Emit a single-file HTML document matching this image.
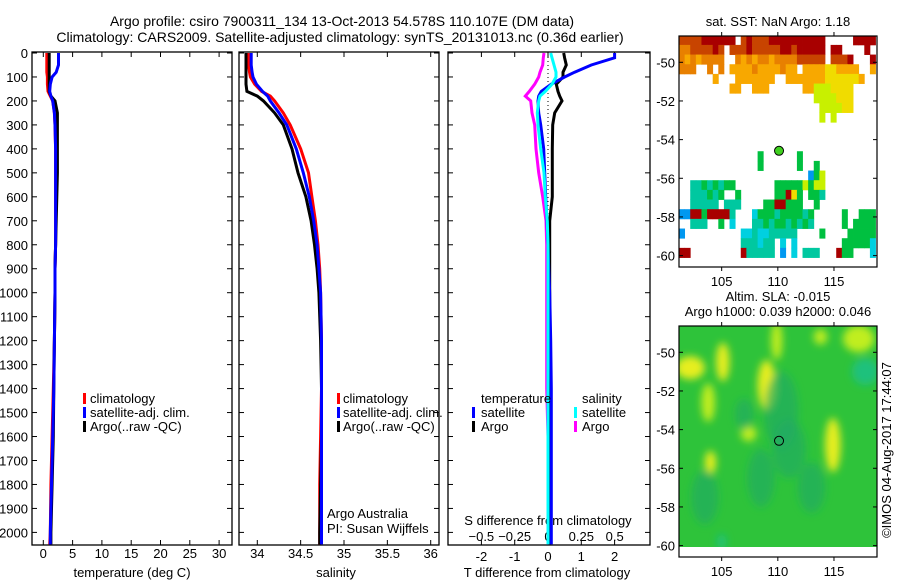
<!DOCTYPE html>
<html><head><meta charset="utf-8">
<style>
html,body{margin:0;padding:0;background:#fff;}
svg{display:block;font-family:"Liberation Sans",sans-serif;}
text{font-size:13px;fill:#000;}
</style></head>
<body>
<svg id="fig" width="900" height="580" viewBox="0 0 900 580" xmlns="http://www.w3.org/2000/svg">
<defs><filter id="blur" x="-50%" y="-50%" width="200%" height="200%"><feGaussianBlur stdDeviation="4"/></filter>
<clipPath id="clip2"><rect x="679" y="326" width="198" height="221"/></clipPath>
<clipPath id="clip1"><rect x="679" y="36" width="198" height="231"/></clipPath></defs>
<text x="342" y="26" text-anchor="middle" style="font-size:14px">Argo profile: csiro 7900311_134 13-Oct-2013 54.578S 110.107E (DM data)</text>
<text x="340" y="42" text-anchor="middle" style="font-size:14px">Climatology: CARS2009. Satellite-adjusted climatology: synTS_20131013.nc (0.36d earlier)</text>
<text x="778" y="26" text-anchor="middle">sat. SST: NaN Argo: 1.18</text>
<text x="778" y="301" text-anchor="middle">Altim. SLA: -0.015</text>
<text x="778" y="316" text-anchor="middle">Argo h1000: 0.039 h2000: 0.046</text>
<text transform="translate(891,450) rotate(-90)" text-anchor="middle">©IMOS 04-Aug-2017 17:44:07</text>
<g id="g"></g>
</svg>
<script>
// ---------- data ----------
const depthTicks=[0,100,200,300,400,500,600,700,800,900,1000,1100,1200,1300,1400,1500,1600,1700,1800,1900,2000];
const tempTicks=[0,5,10,15,20,25,30];
const salTicks=[34,34.5,35,35.5,36];
const tdTicks=[-2,-1,0,1,2];
const sdTicks=[-0.5,-0.25,0,0.25,0.5];
const depths=[0,20,50,80,100,130,160,180,200,250,300,400,500,600,700,800,900,1000,1200,1400,1600,1800,2000,2050];
const tempClim=[0.6,0.6,0.6,0.6,0.7,0.7,0.8,1.2,1.6,1.9,2.0,2.1,2.1,2.1,2.1,2.1,2.0,2.0,1.9,1.7,1.5,1.3,1.2,1.1];
const tempSat=[2.6,2.6,2.6,2.2,1.5,1.2,1.1,1.3,1.6,1.9,2.0,2.1,2.1,2.1,2.1,2.1,2.0,2.0,1.9,1.8,1.6,1.4,1.2,1.2];
const tempArgo=[1.0,1.0,1.0,1.0,1.0,1.0,1.0,1.3,2.0,2.4,2.4,2.4,2.4,2.3,2.2,2.1,2.0,2.0,1.9,1.8,1.7,1.5,1.3,1.3];
const salClim=[33.9,33.9,33.9,33.91,33.92,33.97,34.05,34.15,34.2,34.3,34.38,34.5,34.59,34.63,34.67,34.7,34.72,34.73,34.74,34.74,34.73,34.72,34.72,34.72];
const salSat=[33.93,33.93,33.93,33.94,33.95,33.99,34.06,34.12,34.15,34.25,34.34,34.45,34.53,34.6,34.65,34.69,34.71,34.73,34.74,34.74,34.74,34.74,34.74,34.74];
const salArgo=[33.87,33.87,33.87,33.87,33.87,33.87,33.88,34.0,34.07,34.2,34.3,34.4,34.47,34.56,34.62,34.66,34.69,34.71,34.73,34.74,34.74,34.73,34.72,34.72];
const tdSat=[2.0,2.0,1.3,0.8,0.5,0.1,-0.2,-0.28,-0.3,-0.28,-0.22,-0.13,-0.1,-0.07,-0.03,0,0.02,0.05,0.08,0.1,0.1,0.1,0.1,0.1];
const tdArgo=[0.47,0.5,0.55,0.45,0.45,0.25,0.3,0.35,0.42,0.2,0.14,0.13,0.13,0.13,0.05,0.05,0.05,0.05,0.05,0.05,0.05,0.05,0.05,0.05];
const sdSat=[0.02,0.03,0.045,0.06,0.06,0.03,-0.02,-0.06,-0.07,-0.08,-0.075,-0.055,-0.03,-0.02,-0.005,0,0,0,0,0,0,0,0,0];
const sdArgo=[-0.03,-0.035,-0.04,-0.06,-0.07,-0.1,-0.14,-0.17,-0.13,-0.12,-0.1,-0.09,-0.07,-0.04,-0.015,-0.01,-0.01,-0.01,-0.01,-0.01,0,0,0,0];
const lonTicks=[105,110,115];
const latTicks=[-50,-52,-54,-56,-58,-60];
const argoLon=110.107, argoLat=-54.578;
const sstRows=[
"rrrrRRRRRR.rRrrrRRRRRRRRRR.....RRRR",
"oorrrrRr.rrrRrrrrrRRrRRRRR.RR....R.",
"oOoOoooo..oOoOooOoooorrrrr.rrrR...R",
"ooo..o.o.OOOOoOOOOoOO.OOOOyyOOOO..O",
"......O...OOOOOOO..OOOOOOOyyyyyyO..",
".........OO..OOO......OOYYYyyyy....",
"........................YYYYyyy....",
".........................YYYYyy....",
".........................Y.Y.......",
"",
"",
"",
"..............g......g",
"..............g......g..g",
".......................bgY",
"..ttgtgtgg.......gggggYgYY",
"..tttgtg..g......ggRyg.ggt",
"..ttttt.ttt....ggRRggg..g",
"bbRRgRRRRt...cgggtggggtg.....g..ggg",
"..ttt..g.c...ttgtggtgtgt.....g.gggg",
"b..........cctccttttt....g....ggggg",
"...........tttctt.c.c........gggggc",
"RR.........Rttttt.b.c.ttt...Rgg...c"
];
const sstColors={R:"#a80000",r:"#c84400",o:"#e88000",O:"#f8a800",y:"#f0dc00",Y:"#c8f000",g:"#00c040",t:"#00c8a0",c:"#00d0e0",b:"#0098f0"};
const slaBlobLon=[102.2,105.1,109.0,109.9,117.2,113.8,103.8,107.4,104.0,114.9,110.3,117.8,107.0,111.0,105.0,113.0,103.5,108.5];
const slaBlobLat=[-50.8,-50.5,-51.7,-49.4,-49.3,-49.2,-52.6,-54.2,-55.7,-54.8,-53.0,-51.0,-53.2,-55.0,-59.8,-57.0,-57.5,-56.5];
const slaBlobVal=[1,1,1,0.6,0.8,0.6,0.7,0.8,0.9,0.9,-0.5,-1,-0.7,-0.6,-1,-0.5,-0.5,-0.6];
const slaBlobRx=[1.3,0.6,0.8,0.5,1.4,0.6,0.6,0.7,0.5,0.7,1.5,1.2,0.8,1.5,0.4,1.2,1.2,1.2];
const slaBlobRy=[0.6,1.0,1.3,1.0,0.7,0.4,1.0,0.4,0.6,1.4,2.0,0.7,0.8,1.5,0.4,1.3,1.4,1.5];

// ---------- scales ----------
const NS="http://www.w3.org/2000/svg";
const G=document.getElementById('g');
function el(tag,attrs,parent){const e=document.createElementNS(NS,tag);for(const k in attrs)e.setAttribute(k,attrs[k]);(parent||G).appendChild(e);return e;}
const yD=d=>53+d*0.2397;
const xT=t=>43.3+t*5.86;
const xS=s=>257.3+(s-34)*86.7;
const xTD=t=>548+t*33.3;
const xSD=s=>548+s*133.3;
const mx=lon=>679+(lon-101.2)*11.23;
const my1=lat=>62.3+(-50-lat)*19.33;
const my2=lat=>352.3+(-50-lat)*19.33;

function panel(x0,x1,name){
  const r=el('rect',{x:x0,y:52,width:x1-x0,height:493,fill:'none',stroke:'#000','stroke-width':1.3});
  
  
  depthTicks.forEach(d=>{
    el('line',{x1:x0,x2:x0+5,y1:yD(d),y2:yD(d),stroke:'#000'});
    el('line',{x1:x1-5,x2:x1,y1:yD(d),y2:yD(d),stroke:'#000'});
  });
}
function xticks(vals,f,x0,x1,labY,fmt,name){
  vals.forEach(v=>{const x=f(v);
    el('line',{x1:x,x2:x,y1:52,y2:57,stroke:'#000'});
    el('line',{x1:x,x2:x,y1:540,y2:545,stroke:'#000'});
    const t=el('text',{x:x,y:labY,'text-anchor':'middle'});t.textContent=fmt(v);
    
    
  });
}
function line(xs,f,color,name,w){
  const pts=depths.map((d,i)=>f(xs[i]).toFixed(1)+','+yD(d).toFixed(1)).join(' ');
  const p=el('polyline',{points:pts,fill:'none',stroke:color,'stroke-width':w||3,'stroke-linejoin':'miter'});
  
  
}
function txt(x,y,s,name,anchor){const t=el('text',{x:x,y:y,'text-anchor':anchor||'start'});t.textContent=s;
  
  return t;}
function legBar(x,y,c,name){const r=el('rect',{x:x,y:y-10,width:3,height:11,fill:c});
  
  }

depthTicks.forEach(d=>{const t=el('text',{x:28,y:yD(d)+5,'text-anchor':'end'});t.textContent=d;
  
  });

// panel 1
panel(32,232,'temperature-panel');
xticks(tempTicks,xT,32,232,558,v=>v,'temp-tick-label');
txt(132,577,'temperature (deg C)','temperature-axis-title','middle');
line(tempClim,xT,'#ff0000','temp-climatology-line');
line(tempArgo,xT,'#000000','temp-argo-line');
line(tempSat,xT,'#0000ff','temp-satellite-line');
legBar(83,403,'#ff0000','legend-climatology-swatch');txt(90,403,'climatology','legend-climatology');
legBar(83,417,'#0000ff','legend-satellite-swatch');txt(90,417,'satellite-adj. clim.','legend-satellite');
legBar(83,431,'#000','legend-argo-swatch');txt(90,431,'Argo(..raw -QC)','legend-argo');

// panel 2
panel(239,439,'salinity-panel');
xticks(salTicks,xS,239,439,558,v=>v,'salinity-tick-label');
txt(336,577,'salinity','salinity-axis-title','middle');
line(salClim,xS,'#ff0000','sal-climatology-line');
line(salArgo,xS,'#000000','sal-argo-line');
line(salSat,xS,'#0000ff','sal-satellite-line');
legBar(337,403,'#ff0000','legend-climatology-swatch');txt(343,403,'climatology','legend-climatology');
legBar(337,417,'#0000ff','legend-satellite-swatch');txt(343,417,'satellite-adj. clim.','legend-satellite');
legBar(337,431,'#000','legend-argo-swatch');txt(343,431,'Argo(..raw -QC)','legend-argo');
txt(327,518,'Argo Australia','credit-argo-australia');
txt(327,533,'PI: Susan Wijffels','credit-pi');

// panel 3
panel(448,650,'difference-panel');
xticks(tdTicks,xTD,448,650,561,v=>v,'t-diff-tick-label');
sdTicks.forEach(v=>{txt(xSD(v),541,String(v).replace('-','\u2212'),'s-diff-tick-label','middle');});
txt(548,525,'S difference from climatology','s-diff-axis-title','middle');
txt(547,577,'T difference from climatology','t-diff-axis-title','middle');
el('line',{x1:548,x2:548,y1:53,y2:215,stroke:'#000','stroke-dasharray':'1,3'});
line(sdArgo,xSD,'#ff00ff','s-diff-argo-line');
line(tdArgo,xTD,'#000000','t-diff-argo-line');
line(tdSat,xTD,'#0000ff','t-diff-satellite-line');
line(sdSat,xSD,'#00ffff','s-diff-satellite-line');
txt(481,403,'temperature','legend-temperature-heading');
legBar(472,417,'#0000ff','legend-t-satellite-swatch');txt(481,417,'satellite','legend-t-satellite');
legBar(472,431,'#000','legend-t-argo-swatch');txt(481,431,'Argo','legend-t-argo');
txt(582,403,'salinity','legend-salinity-heading');
legBar(574,417,'#00ffff','legend-s-satellite-swatch');txt(582,417,'satellite','legend-s-satellite');
legBar(574,431,'#ff00ff','legend-s-argo-swatch');txt(582,431,'Argo','legend-s-argo');

// maps
function mapFrame(top,bot,myf,name){
  const r=el('rect',{x:679,y:top,width:198,height:bot-top,fill:'none',stroke:'#000','stroke-width':1.2});
  
  
  lonTicks.forEach(l=>{const x=mx(l);
    el('line',{x1:x,x2:x,y1:top-4,y2:top,stroke:'#000'});
    el('line',{x1:x,x2:x,y1:bot,y2:bot+4,stroke:'#000'});
    txt(x,bot+19,l,'lon-tick-label','middle');});
  latTicks.forEach(l=>{const y=myf(l);
    el('line',{x1:679,x2:683,y1:y,y2:y,stroke:'#000'});
    el('line',{x1:873,x2:877,y1:y,y2:y,stroke:'#000'});
    txt(675,y+5,l,'lat-tick-label','end');});
  const c=el('circle',{cx:mx(argoLon),cy:myf(argoLat),r:4.5,fill:name.includes('sst')?'#40d020':'none',stroke:'#000','stroke-width':1});
  
  
}
const sstG=el('g',{'clip-path':'url(#clip1)'});
sstRows.forEach((row,ri)=>{
  for(let ci=0;ci<row.length;ci++){const ch=row[ci];if(ch==='.')continue;
    const lon=101.2+ci*0.5, lat=-48.6-ri*0.5;
    const r=el('rect',{x:mx(lon),y:my1(lat),width:0.5*11.23+0.4,height:0.5*19.33+0.4,fill:sstColors[ch]},sstG);
    
    
  }
});
mapFrame(36,267,my1,'sst-map');
const slaG=el('g',{'clip-path':'url(#clip2)'});
el('rect',{x:679,y:326,width:198,height:221,fill:'#2ec33a'},slaG);
const blobG=el('g',{filter:'url(#blur)'},slaG);
slaBlobLon.forEach((lon,i)=>{const v=slaBlobVal[i];
  const col=v>0.85?'#f0f020':v>0?'#c8f020':v>-0.8?'#20a868':'#18c0a8';
  const e=el('ellipse',{cx:mx(lon),cy:my2(slaBlobLat[i]),rx:slaBlobRx[i]*11.23,ry:slaBlobRy[i]*19.33,fill:col,opacity:v>0?0.95:0.6},blobG);
  
  
});
mapFrame(326,557,my2,'sla-map');
</script>
</body></html>
